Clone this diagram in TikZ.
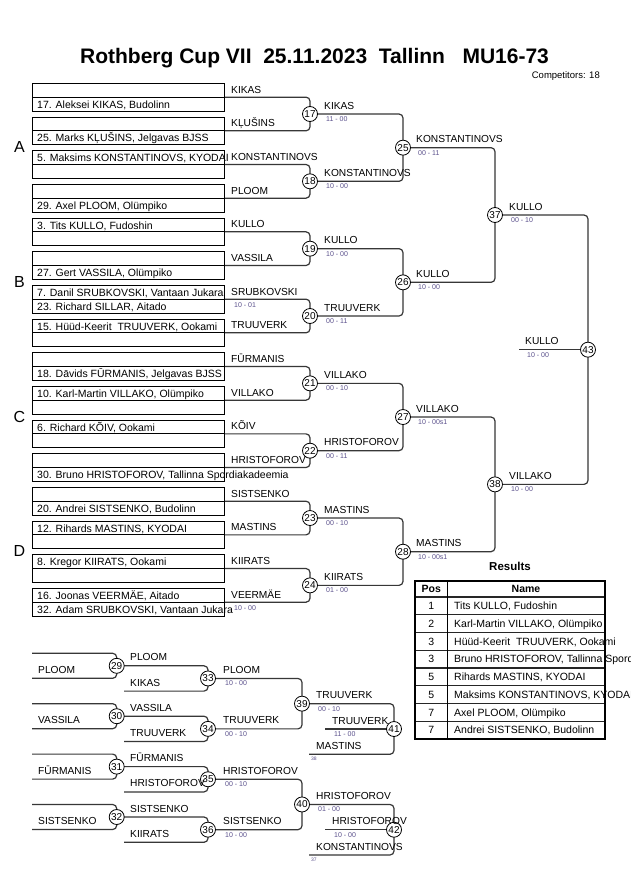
\documentclass[tikz,border=0pt]{standalone}
\usepackage{fontspec}
\setmainfont{Liberation Sans}
\pgfdeclarelayer{bg}
\pgfsetlayers{bg,main}
\definecolor{linec}{RGB}{55,55,55}
\definecolor{scorec}{RGB}{90,80,140}
\tikzset{
  entry/.style={draw=black, line width=0.8pt, minimum width=192pt, minimum height=27.7pt, inner sep=0pt, outer sep=0pt, anchor=north west},
  boxl/.style={draw=black, line width=0.8pt},
  brk/.style={draw=linec, line width=1.2pt, rounded corners=4pt},
  mnum/.style={circle, draw=black, fill=white, line width=0.8pt, minimum size=15pt, inner sep=0pt, font=\fontsize{10}{10}\selectfont},
  nm/.style={anchor=base west, inner sep=0pt, font=\fontsize{10.2}{12}\selectfont},
  ent/.style={anchor=base west, inner sep=0pt, font=\fontsize{10.5}{12}\selectfont},
  sc/.style={anchor=base west, inner sep=0pt, text=scorec, font=\fontsize{7}{8}\selectfont},
  refn/.style={anchor=base west, inner sep=0pt, text=scorec, font=\fontsize{5}{6}\selectfont},
  grp/.style={anchor=base, inner sep=0pt, font=\fontsize{16}{16}\selectfont},
  reshd/.style={anchor=base, inner sep=0pt, font=\bfseries\fontsize{10.5}{12}\selectfont},
  respos/.style={anchor=base, inner sep=0pt, font=\fontsize{10.5}{12}\selectfont},
  resname/.style={anchor=base west, inner sep=0pt, font=\fontsize{10.5}{12}\selectfont},
}
\newcommand\mkentry[4]{%
  \pgfmathsetmacro\yt{83.3+33.67*#1}%
  \node[entry] (b#1) at (32,\yt) {};
  \draw[boxl] (b#1.west) -- (b#1.east);
  \node[ent] (e#1t) at (37,{\yt+11.1}) {#2};
  \node[ent] (e#1b) at (37,{\yt+24.9}) {#3};
  \node[nm] (r#1) at (231,{\yt+9.85}) {#4};
}
\newcommand\mkwin[5]{%
  \node[nm] (wl#5) at (#1,{#2-5}) {#3};
  \node[sc] (ws#5) at ({#1+2},{#2+7.5}) {#4};
}
\begin{document}
\begin{tikzpicture}[x=1pt,y=-1pt]
\begin{pgfonlayer}{bg}
\fill[white] (0,0) rectangle (630,891);
\end{pgfonlayer}
\useasboundingbox (0,0) rectangle (630,891);

% title
\node[anchor=base, inner sep=0pt, font=\bfseries\fontsize{21}{21}\selectfont] (title) at (314.5,63.5)
  {Rothberg Cup VII\ \ 25.11.2023\ \ Tallinn\ \ \ MU16-73};
\node[anchor=base east, inner sep=0pt, font=\fontsize{9.5}{10}\selectfont] (comp) at (600,78) {Competitors: 18};

% group letters
\node[grp] (gA) at (19.5,152.7) {A};
\node[grp] (gB) at (19.5,287.4) {B};
\node[grp] (gC) at (19.5,422.0) {C};
\node[grp] (gD) at (19.5,556.7) {D};

% entries
\mkentry{0}{}{17. Aleksei KIKAS, Budolinn}{KIKAS}
\mkentry{1}{}{25. Marks KĻUŠINS, Jelgavas BJSS}{KĻUŠINS}
\mkentry{2}{5. Maksims KONSTANTINOVS, KYODAI}{}{KONSTANTINOVS}
\mkentry{3}{}{29. Axel PLOOM, Olümpiko}{PLOOM}
\mkentry{4}{3. Tits KULLO, Fudoshin}{}{KULLO}
\mkentry{5}{}{27. Gert VASSILA, Olümpiko}{VASSILA}
\mkentry{6}{7. Danil SRUBKOVSKI, Vantaan Jukara}{23. Richard SILLAR, Aitado}{SRUBKOVSKI}
\mkentry{7}{15. Hüüd-Keerit\ \ TRUUVERK, Ookami}{}{TRUUVERK}
\mkentry{8}{}{18. Dāvids FŪRMANIS, Jelgavas BJSS}{FŪRMANIS}
\mkentry{9}{10. Karl-Martin VILLAKO, Olümpiko}{}{VILLAKO}
\mkentry{10}{6. Richard KÕIV, Ookami}{}{KÕIV}
\mkentry{11}{}{30. Bruno HRISTOFOROV, Tallinna Spordiakadeemia}{HRISTOFOROV}
\mkentry{12}{}{20. Andrei SISTSENKO, Budolinn}{SISTSENKO}
\mkentry{13}{12. Rihards MASTINS, KYODAI}{}{MASTINS}
\mkentry{14}{8. Kregor KIIRATS, Ookami}{}{KIIRATS}
\mkentry{15}{16. Joonas VEERMÄE, Aitado}{32. Adam SRUBKOVSKI, Vantaan Jukara}{VEERMÄE}
\node[sc] (p6s) at (234,307.2) {10 - 01};
\node[sc] (p15s) at (234,610.2) {10 - 00};

% main bracket circles
\node[mnum] (m17) at (310,114.0) {17};
\node[mnum] (m18) at (310,181.33) {18};
\node[mnum] (m19) at (310,248.67) {19};
\node[mnum] (m20) at (310,316.0) {20};
\node[mnum] (m21) at (310,383.35) {21};
\node[mnum] (m22) at (310,450.69) {22};
\node[mnum] (m23) at (310,518.03) {23};
\node[mnum] (m24) at (310,585.37) {24};
\node[mnum] (m25) at (403,147.66) {25};
\node[mnum] (m26) at (403,282.34) {26};
\node[mnum] (m27) at (403,417.02) {27};
\node[mnum] (m28) at (403,551.7) {28};
\node[mnum] (m37) at (495,215.0) {37};
\node[mnum] (m38) at (495,484.36) {38};
\node[mnum] (m43) at (588,349.68) {43};
\coordinate (w43) at (519,349.68);

\mkwin{324}{114.0}{KIKAS}{11 - 00}{17}
\mkwin{324}{181.33}{KONSTANTINOVS}{10 - 00}{18}
\mkwin{324}{248.67}{KULLO}{10 - 00}{19}
\mkwin{324}{316.0}{TRUUVERK}{00 - 11}{20}
\mkwin{324}{383.35}{VILLAKO}{00 - 10}{21}
\mkwin{324}{450.69}{HRISTOFOROV}{00 - 11}{22}
\mkwin{324}{518.03}{MASTINS}{00 - 10}{23}
\mkwin{324}{585.37}{KIIRATS}{01 - 00}{24}
\mkwin{416}{147.66}{KONSTANTINOVS}{00 - 11}{25}
\mkwin{416}{282.34}{KULLO}{10 - 00}{26}
\mkwin{416}{417.02}{VILLAKO}{10 - 00s1}{27}
\mkwin{416}{551.7}{MASTINS}{10 - 00s1}{28}
\mkwin{509}{215.0}{KULLO}{00 - 10}{37}
\mkwin{509}{484.36}{VILLAKO}{10 - 00}{38}
\mkwin{525}{349.68}{KULLO}{10 - 00}{43}

% repechage
\coordinate (t29) at (32,653.3); \coordinate (u29) at (32,678.3);
\coordinate (t30) at (32,703.7); \coordinate (u30) at (32,728.7);
\coordinate (t31) at (32,754.1); \coordinate (u31) at (32,779.1);
\coordinate (t32) at (32,804.5); \coordinate (u32) at (32,829.5);
\node[mnum] (m29) at (116.7,665.8) {29};
\node[mnum] (m30) at (116.7,716.2) {30};
\node[mnum] (m31) at (116.7,766.6) {31};
\node[mnum] (m32) at (116.7,817.0) {32};
\coordinate (q33) at (124,691.1);
\coordinate (q34) at (124,741.5);
\coordinate (q35) at (124,791.9);
\coordinate (q36) at (124,842.3);
\node[mnum] (m33) at (208,678.45) {33};
\node[mnum] (m34) at (208,728.85) {34};
\node[mnum] (m35) at (208,779.25) {35};
\node[mnum] (m36) at (208,829.65) {36};
\node[mnum] (m39) at (302,703.65) {39};
\node[mnum] (m40) at (302,804.45) {40};
\coordinate (q41) at (309,754.3);
\coordinate (q42) at (309,855.0);
\node[mnum] (m41) at (394,729.0) {41};
\node[mnum] (m42) at (394,829.7) {42};
\coordinate (w41) at (325,729.0);
\coordinate (w42) at (325,829.7);

\node[nm] (lp29) at (38,673.3) {PLOOM};
\node[nm] (lp30) at (38,723.7) {VASSILA};
\node[nm] (lp31) at (38,774.1) {FŪRMANIS};
\node[nm] (lp32) at (38,824.5) {SISTSENKO};
\node[nm] (la33) at (130,660.8) {PLOOM};
\node[nm] (lb33) at (130,686.1) {KIKAS};
\node[nm] (la34) at (130,711.2) {VASSILA};
\node[nm] (lb34) at (130,736.5) {TRUUVERK};
\node[nm] (la35) at (130,761.6) {FŪRMANIS};
\node[nm] (lb35) at (130,786.9) {HRISTOFOROV};
\node[nm] (la36) at (130,812.0) {SISTSENKO};
\node[nm] (lb36) at (130,837.3) {KIIRATS};
\mkwin{223}{678.45}{PLOOM}{10 - 00}{33}
\mkwin{223}{728.85}{TRUUVERK}{00 - 10}{34}
\mkwin{223}{779.25}{HRISTOFOROV}{00 - 10}{35}
\mkwin{223}{829.65}{SISTSENKO}{10 - 00}{36}
\mkwin{316}{703.65}{TRUUVERK}{00 - 10}{39}
\mkwin{316}{804.45}{HRISTOFOROV}{01 - 00}{40}
\node[nm] (lb41) at (316,749.3) {MASTINS};
\node[refn] (rf41) at (311,760.3) {38};
\node[nm] (lb42) at (316,850.0) {KONSTANTINOVS};
\node[refn] (rf42) at (311,861.0) {37};
\mkwin{332}{729.0}{TRUUVERK}{11 - 00}{41}
\mkwin{332}{829.7}{HRISTOFOROV}{10 - 00}{42}

% connectors (behind circles)
\begin{pgfonlayer}{bg}
\foreach \a/\b/\m in {0/1/17, 2/3/18, 4/5/19, 6/7/20, 8/9/21, 10/11/22, 12/13/23, 14/15/24}
  {\draw[brk] (b\a.east) -- (b\a.east -| m\m) -- (b\b.east -| m\m) -- (b\b.east);}
\foreach \a/\b/\m in {17/18/25, 19/20/26, 21/22/27, 23/24/28, 25/26/37, 27/28/38, 37/38/43, 33/34/39, 35/36/40}
  {\draw[brk] (m\a.center) -- (m\a -| m\m) -- (m\b -| m\m) -- (m\b.center);}
\draw[brk] (w43) -- (m43.center);
\foreach \m in {29,30,31,32}
  {\draw[brk] (t\m) -- (t\m -| m\m) -- (u\m -| m\m) -- (u\m);}
\foreach \a/\m in {29/33, 30/34, 31/35, 32/36, 39/41, 40/42}
  {\draw[brk] (m\a.center) -- (m\a -| m\m) -- (q\m -| m\m) -- (q\m);}
\draw[brk] (w41) -- (m41.center);
\draw[brk] (w42) -- (m42.center);
\end{pgfonlayer}

% results
\node[anchor=base, inner sep=0pt, font=\bfseries\fontsize{11.5}{12}\selectfont] (restitle) at (510,570) {Results};
\foreach \i in {0,...,7}
  {\draw[line width=1.1pt, draw=black!85] (415,{597+17.75*\i}) -- (605,{597+17.75*\i});}
\draw[line width=1pt] (447.5,581) -- (447.5,739);
\draw[line width=1.8pt] (415,581) rectangle (605,739);
\node[reshd] (hpos) at (431.3,592) {Pos};
\node[reshd] (hname) at (526,592) {Name};
\foreach \i/\p/\n in {0/1/{Tits KULLO, Fudoshin},
                      1/2/{Karl-Martin VILLAKO, Olümpiko},
                      2/3/{Hüüd-Keerit\ \ TRUUVERK, Ookami},
                      3/3/{Bruno HRISTOFOROV, Tallinna Spordiakadeemia},
                      4/5/{Rihards MASTINS, KYODAI},
                      5/5/{Maksims KONSTANTINOVS, KYODAI},
                      6/7/{Axel PLOOM, Olümpiko},
                      7/7/{Andrei SISTSENKO, Budolinn}}
  {\node[respos] (pos\i) at (431.3,{609.7+17.75*\i}) {\p};
   \node[resname] (res\i) at (454,{609.7+17.75*\i}) {\n};}
\end{tikzpicture}
\end{document}
